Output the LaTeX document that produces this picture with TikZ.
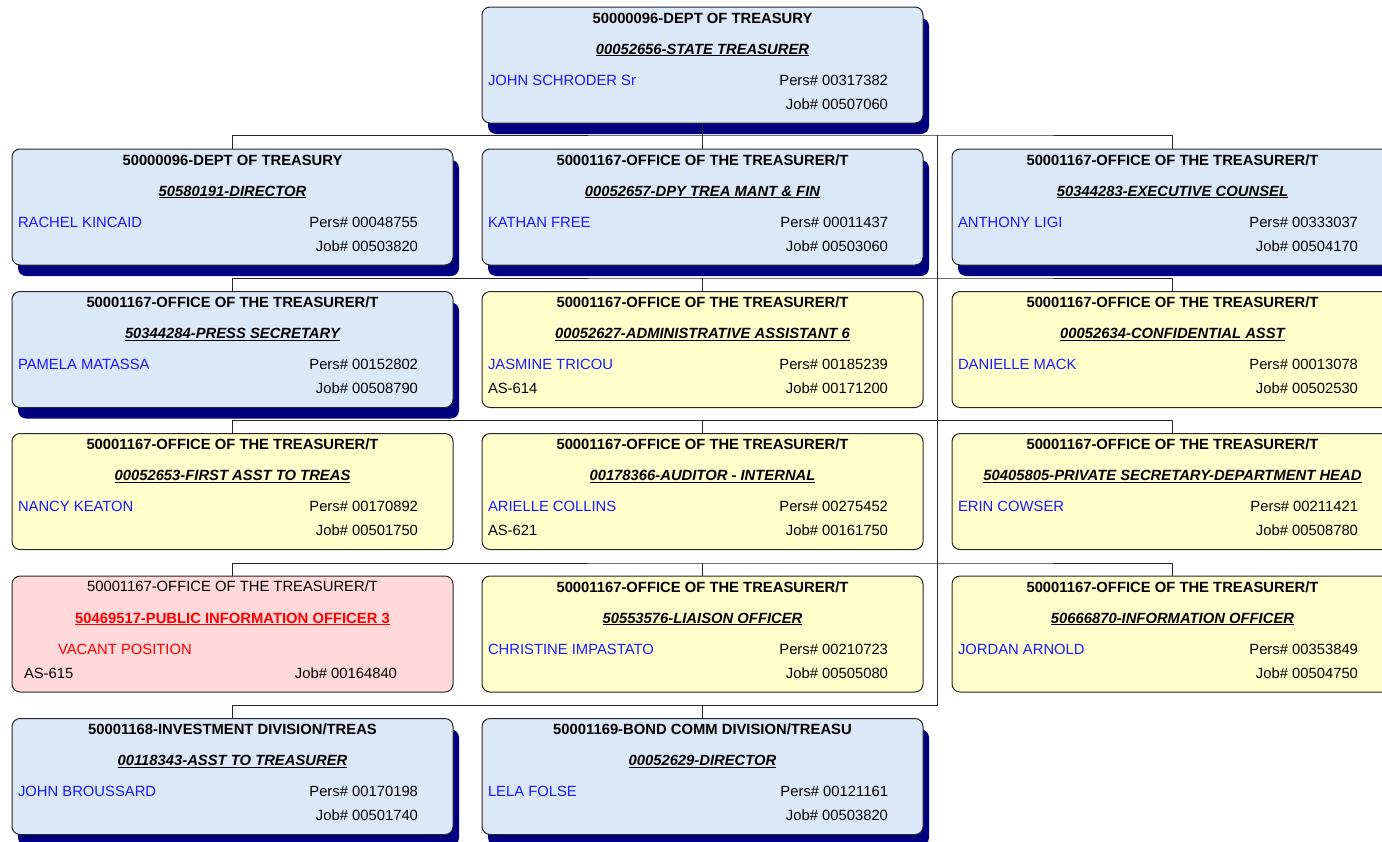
\documentclass[tikz,border=0pt]{standalone}
\usepackage{fontspec}
\setmainfont{Liberation Sans}
\usepackage{xcolor}
\usepackage{tikz}
\usetikzlibrary{calc}
\usetikzlibrary{shadows}
\definecolor{boxblue}{RGB}{219,232,248}
\definecolor{boxyellow}{RGB}{255,255,204}
\definecolor{boxpink}{RGB}{255,217,217}
\definecolor{shadownavy}{RGB}{0,0,128}
\definecolor{namecol}{RGB}{25,25,255}
\newcommand{\orgbox}[9]{
  \node[#4] (#1) at (#2,#3) {};
  \node[txt,anchor=base,font=\bfseries] (#1dept) at ([yshift=-16pt]#1.north) {#5};
  \node[txt,anchor=base,font=\bfseries\itshape] (#1pos) at ([yshift=-47pt]#1.north) {\underline{#6}};
  \node[txt,anchor=base west,text=namecol] (#1name) at ([xshift=6pt,yshift=-78pt]#1.north west) {#7};
  \node[txt,anchor=base east] (#1pers) at ([xshift=406pt,yshift=-78pt]#1.north west) {Pers\# #8};
  \node[txt,anchor=base east] (#1job) at ([xshift=406pt,yshift=-102pt]#1.north west) {Job\# #9};
}
\begin{document}
\fontsize{14.8}{17}\selectfont
\begin{tikzpicture}[x=1pt,y=-1pt,line join=round,
  box/.style={draw=black!85,line width=1pt,rounded corners=8pt,anchor=north west,
    minimum width=441pt,minimum height=116pt,inner sep=0pt,outer sep=0pt},
  bluebox/.style={box,fill=boxblue,general shadow={fill=shadownavy,shadow xshift=6pt,shadow yshift=-11pt}},
  yellowbox/.style={box,fill=boxyellow},
  pinkbox/.style={box,fill=boxpink},
  txt/.style={inner sep=0pt,outer sep=0pt},
  conn/.style={draw=black!85,line width=1pt}]
\useasboundingbox (0,0) rectangle (1382,841);
\clip (0,0) rectangle (1382,841);
\fill[white] (0,0) rectangle (1382,841);
% top
\orgbox{top}{482}{7}{bluebox}{50000096-DEPT OF TREASURY}{00052656-STATE TREASURER}{JOHN SCHRODER Sr}{00317382}{00507060}
% row 1
\orgbox{r1c1}{12}{149}{bluebox}{50000096-DEPT OF TREASURY}{50580191-DIRECTOR}{RACHEL KINCAID}{00048755}{00503820}
\orgbox{r1c2}{482}{149}{bluebox}{50001167-OFFICE OF THE TREASURER/T}{00052657-DPY TREA MANT \& FIN}{KATHAN FREE}{00011437}{00503060}
\orgbox{r1c3}{952}{149}{bluebox}{50001167-OFFICE OF THE TREASURER/T}{50344283-EXECUTIVE COUNSEL}{ANTHONY LIGI}{00333037}{00504170}
% row 2
\orgbox{r2c1}{12}{291.5}{bluebox}{50001167-OFFICE OF THE TREASURER/T}{50344284-PRESS SECRETARY}{PAMELA MATASSA}{00152802}{00508790}
\orgbox{r2c2}{482}{291.5}{yellowbox}{50001167-OFFICE OF THE TREASURER/T}{00052627-ADMINISTRATIVE ASSISTANT 6}{JASMINE TRICOU}{00185239}{00171200}
\orgbox{r2c3}{952}{291.5}{yellowbox}{50001167-OFFICE OF THE TREASURER/T}{00052634-CONFIDENTIAL ASST}{DANIELLE MACK}{00013078}{00502530}
\node[txt,anchor=base west] (r2c2as) at ([xshift=6pt,yshift=-102pt]r2c2.north west) {AS-614};
% row 3
\orgbox{r3c1}{12}{433.5}{yellowbox}{50001167-OFFICE OF THE TREASURER/T}{00052653-FIRST ASST TO TREAS}{NANCY KEATON}{00170892}{00501750}
\orgbox{r3c2}{482}{433.5}{yellowbox}{50001167-OFFICE OF THE TREASURER/T}{00178366-AUDITOR - INTERNAL}{ARIELLE COLLINS}{00275452}{00161750}
\orgbox{r3c3}{952}{433.5}{yellowbox}{50001167-OFFICE OF THE TREASURER/T}{50405805-PRIVATE SECRETARY-DEPARTMENT HEAD}{ERIN COWSER}{00211421}{00508780}
\node[txt,anchor=base west] (r3c2as) at ([xshift=6pt,yshift=-102pt]r3c2.north west) {AS-621};
% row 4, vacant one by hand
\node[pinkbox] (r4c1) at (12,576) {};
\node[txt,anchor=base] (r4c1dept) at ([yshift=-15pt]r4c1.north) {50001167-OFFICE OF THE TREASURER/T};
\node[txt,anchor=base,font=\bfseries,text=red] (r4c1pos) at ([yshift=-47pt]r4c1.north) {\underline{50469517-PUBLIC INFORMATION OFFICER 3}};
\node[txt,anchor=base west,text=red] (r4c1name) at ([xshift=46pt,yshift=-78pt]r4c1.north west) {VACANT POSITION};
\node[txt,anchor=base west] (r4c1as) at ([xshift=12pt,yshift=-102pt]r4c1.north west) {AS-615};
\node[txt,anchor=base east] (r4c1job) at ([xshift=385pt,yshift=-102pt]r4c1.north west) {Job\# 00164840};
\orgbox{r4c2}{482}{576}{yellowbox}{50001167-OFFICE OF THE TREASURER/T}{50553576-LIAISON OFFICER}{CHRISTINE IMPASTATO}{00210723}{00505080}
\orgbox{r4c3}{952}{576}{yellowbox}{50001167-OFFICE OF THE TREASURER/T}{50666870-INFORMATION OFFICER}{JORDAN ARNOLD}{00353849}{00504750}
% row 5
\orgbox{r5c1}{12}{718.5}{bluebox}{50001168-INVESTMENT DIVISION/TREAS}{00118343-ASST TO TREASURER}{JOHN BROUSSARD}{00170198}{00501740}
\orgbox{r5c2}{482}{718.5}{bluebox}{50001169-BOND COMM DIVISION/TREASU}{00052629-DIRECTOR}{LELA FOLSE}{00121161}{00503820}
% connectors
\coordinate (bus1) at (937,135);
\coordinate (bus2) at (937,278);
\coordinate (bus3) at (937,420.5);
\coordinate (bus4) at (937,563);
\coordinate (bus5) at (937,705.5);
\draw[conn] (bus1) -- (bus5);
\draw[conn] (top.south) -- (r1c2.north);
\draw[conn] (r1c1.north) |- (bus1) -| (r1c3.north);
\foreach \r in {2,3,4} {
  \draw[conn] (r\r c1.north) |- (bus\r) -| (r\r c3.north);
  \draw[conn] (r\r c2.north) -- (r\r c2.north |- bus\r);
}
\draw[conn] (r5c1.north) |- (bus5);
\draw[conn] (r5c2.north) -- (r5c2.north |- bus5);
\end{tikzpicture}
\end{document}
